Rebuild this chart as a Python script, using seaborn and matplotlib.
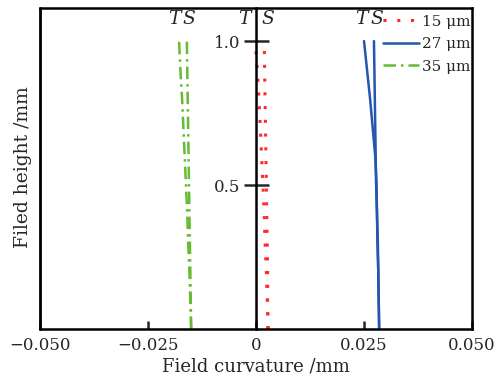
import matplotlib
matplotlib.use("Agg")
import matplotlib.pyplot as plt
import seaborn as sns
import pandas as pd

# field height (mm) sampled along each curve
height = [0.0, 0.1, 0.2, 0.3, 0.4, 0.5, 0.6, 0.7, 0.8, 0.9, 1.0]

# field curvature (mm), tangential (T) and sagittal (S)
t_15 = [0.0028, 0.0026, 0.0024, 0.0021, 0.0019, 0.0016, 0.0013, 0.0010, 0.0007, 0.0003, -0.0002]
s_15 = [0.0028, 0.0027, 0.0027, 0.0026, 0.0025, 0.0024, 0.0023, 0.0022, 0.0021, 0.0020, 0.0019]
t_27 = [0.0285, 0.0284, 0.0283, 0.0282, 0.0280, 0.0279, 0.0276, 0.0270, 0.0264, 0.0257, 0.0250]
s_27 = [0.0285, 0.0284, 0.0283, 0.0281, 0.0280, 0.0278, 0.0277, 0.0276, 0.0275, 0.0274, 0.0273]
t_35 = [-0.0150, -0.0152, -0.0154, -0.0157, -0.0159, -0.0162, -0.0165, -0.0168, -0.0171, -0.0175, -0.0178]
s_35 = [-0.0150, -0.0151, -0.0152, -0.0153, -0.0154, -0.0155, -0.0156, -0.0157, -0.0158, -0.0159, -0.0160]

labels = ["15 \u03bcm", "27 \u03bcm", "35 \u03bcm"]
xticks = [-0.05, -0.025, 0, 0.025, 0.05]
xtick_labels = ["\u22120.050", "\u22120.025", "0", "0.025", "0.050"]
yticks = [0.5, 1.0]

rows = []
for lab, t, s in zip(labels, [t_15, t_27, t_35], [s_15, s_27, s_35]):
    for kind, vals in (("T", t), ("S", s)):
        for h, v in zip(height, vals):
            rows.append({"wave": lab, "kind": kind, "height": h, "curv": v})
df = pd.DataFrame(rows)

sns.set_style("ticks")
plt.rcParams["font.family"] = ["DejaVu Serif"]
plt.rcParams["mathtext.fontset"] = "dejavuserif"

styles = {
    "15 \u03bcm": dict(color="#ff2a2a", linestyle=(0, (1, 3.5)), lw=2.2),
    "27 \u03bcm": dict(color="#2356b0", linestyle="-", lw=1.8),
    "35 \u03bcm": dict(color="#66bb33", linestyle=(0, (5, 2, 1, 2)), lw=1.8),
}

fig = plt.figure(figsize=(4.99, 3.8), dpi=100)
ax = fig.add_axes([0.080, 0.134, 0.866, 0.845])

for lab in labels:
    for kind in ("T", "S"):
        sub = df[(df.wave == lab) & (df.kind == kind)]
        sns.lineplot(data=sub, x="curv", y="height", orient="y", sort=False,
                     estimator=None, ax=ax, label=lab if kind == "T" else None,
                     **styles[lab])

ax.set_xlim(-0.05, 0.05)
ax.set_ylim(0, 1.115)

# y axis drawn through x = 0, keep frame on the left as a plain line
ax.spines["left"].set_position(("data", 0))
ax.axvline(-0.05, color="black", lw=2, clip_on=False)
for sp in ax.spines.values():
    sp.set_linewidth(1.8)
    sp.set_color("black")

ax.set_xticks(xticks)
ax.set_xticklabels(xtick_labels)
ax.set_yticks(yticks)
ax.set_yticklabels(["0.5", "1.0"])
ax.tick_params(axis="x", direction="in", length=6, width=1.8, labelsize=12, pad=6)
ax.tick_params(axis="y", direction="inout", length=18, width=1.8, labelsize=12, pad=2)

ax.set_xlabel("Field curvature /mm", fontsize=13, labelpad=2)
ax.set_ylabel("")
fig.text(0.046, 0.56, "Filed height /mm", rotation=90, fontsize=13.5,
         ha="center", va="center")

# T / S labels above each pair
for x, s in [(-0.0188, "T"), (-0.0155, "S"), (-0.0028, "T"), (0.0028, "S"),
             (0.0243, "T"), (0.0280, "S")]:
    ax.text(x, 1.075, s, style="italic", fontsize=13.5, ha="center", va="center")

leg = ax.legend(loc="upper right", bbox_to_anchor=(1.015, 1.005), frameon=False,
                fontsize=11, handlelength=2.4, handletextpad=0.15,
                labelspacing=0.55, borderaxespad=0.15)

fig.savefig("out.png", dpi=100)
